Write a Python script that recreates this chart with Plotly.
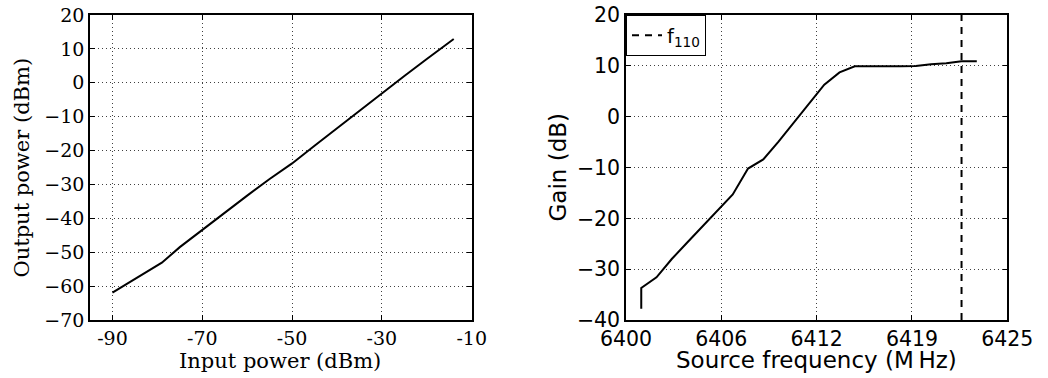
import plotly.graph_objects as go

# Left panel: output power vs input power
in_power = [-90, -85, -80, -79, -75, -70, -66, -60, -55, -50, -45, -40, -35, -30, -25, -20, -14]
out_power = [-61.9, -57.8, -53.7, -53.1, -48.5, -43.4, -39.3, -33.3, -28.4, -23.8, -18.6, -13.4, -8.3, -3.1, 2.0, 7.0, 12.9]

# Right panel: gain vs source frequency
freq = [6401, 6401, 6402, 6403, 6404, 6405, 6406, 6407, 6408, 6409, 6410, 6411, 6412,
        6413, 6414, 6415, 6416, 6417, 6418, 6419, 6420, 6421, 6422, 6423]
gain = [-37.8, -33.7, -31.6, -28.0, -24.8, -21.6, -18.6, -15.3, -10.2, -8.4, -4.9, -1.2, 2.6,
        6.3, 8.7, 9.9, 9.9, 9.85, 9.9, 9.95, 10.3, 10.5, 10.9, 10.9]

f110 = 6422
f110_y = [-40, 20]

left_xticks = [-90, -70, -50, -30, -10]
left_xticktext = ["-90", "-70", "-50", "-30", "-10"]
left_yticks = [20, 10, 0, -10, -20, -30, -40, -50, -60, -70]
right_xticks = [6400, 6406.25, 6412.5, 6418.75, 6425]
right_xticktext = ["6400", "6406", "6412", "6419", "6425"]
right_yticks = [20, 10, 0, -10, -20, -30, -40]


def ylabels(vals):
    return [("\u2212" + str(abs(v))) if v < 0 else str(v) for v in vals]


W, H = 1048, 378
SERIF = "DejaVu Serif"
SANS = "DejaVu Sans"

fig = go.Figure()
fig.add_trace(go.Scatter(x=in_power, y=out_power, mode="lines",
                         line=dict(color="black", width=2), showlegend=False,
                         xaxis="x", yaxis="y"))
fig.add_trace(go.Scatter(x=freq, y=gain, mode="lines",
                         line=dict(color="black", width=2), showlegend=False,
                         xaxis="x2", yaxis="y2"))
fig.add_trace(go.Scatter(x=[f110, f110], y=f110_y, mode="lines",
                         line=dict(color="black", width=2, dash="7px,6px"),
                         name="f<sub>110</sub>", showlegend=True,
                         xaxis="x2", yaxis="y2"))

ydom = [1 - 320 / H, 1 - 15 / H]
common = dict(showline=True, linecolor="black", linewidth=1.5, mirror="ticks",
              ticks="inside", ticklen=5, tickwidth=1, tickcolor="black",
              showgrid=True, gridcolor="rgba(0,0,0,0.75)", gridwidth=1, griddash="1px,3px",
              zeroline=False, automargin=False)

fig.update_layout(
    width=W, height=H,
    margin=dict(l=0, r=0, t=0, b=0, autoexpand=False),
    paper_bgcolor="white", plot_bgcolor="white",
    xaxis=dict(domain=[90 / W, 471.7 / W], range=[-95, -10], anchor="y",
               tickmode="array", tickvals=left_xticks, ticktext=left_xticktext,
               tickfont=dict(family=SERIF, size=19, color="black"), **common),
    yaxis=dict(domain=ydom, range=[-70, 20], anchor="x",
               tickmode="array", tickvals=left_yticks, ticktext=ylabels(left_yticks),
               tickfont=dict(family=SERIF, size=19, color="black"), **common),
    xaxis2=dict(domain=[626 / W, 1007.3 / W], range=[6400, 6425], anchor="y2",
                tickmode="array", tickvals=right_xticks, ticktext=right_xticktext,
                tickfont=dict(family=SANS, size=20.5, color="black"), **common),
    yaxis2=dict(domain=ydom, range=[-40, 20], anchor="x2",
                tickmode="array", tickvals=right_yticks, ticktext=ylabels(right_yticks),
                tickfont=dict(family=SANS, size=20.5, color="black"), **common),
    legend=dict(x=626 / W, y=1 - 15 / H, xanchor="left", yanchor="top",
                bgcolor="white", bordercolor="black", borderwidth=1,
                font=dict(family=SANS, size=19.5, color="black"),
                itemwidth=30, tracegroupgap=0),
    showlegend=True,
    annotations=[
        dict(text="Output power (dBm)", x=21 / W, y=1 - 167.5 / H, xref="paper", yref="paper",
             textangle=-90, showarrow=False, font=dict(family=SERIF, size=21, color="black"),
             xanchor="center", yanchor="middle"),
        dict(text="Input power (dBm)", x=280 / W, y=1 - 361 / H, xref="paper", yref="paper",
             showarrow=False, font=dict(family=SERIF, size=21, color="black"),
             xanchor="center", yanchor="middle"),
        dict(text="Gain (dB)", x=557 / W, y=1 - 167.5 / H, xref="paper", yref="paper",
             textangle=-90, showarrow=False, font=dict(family=SANS, size=23, color="black"),
             xanchor="center", yanchor="middle"),
        dict(text="Source frequency (M\u2009Hz)", x=816.7 / W, y=1 - 360 / H, xref="paper", yref="paper",
             showarrow=False, font=dict(family=SANS, size=23, color="black"),
             xanchor="center", yanchor="middle"),
    ],
)

fig.write_html("out.html")
